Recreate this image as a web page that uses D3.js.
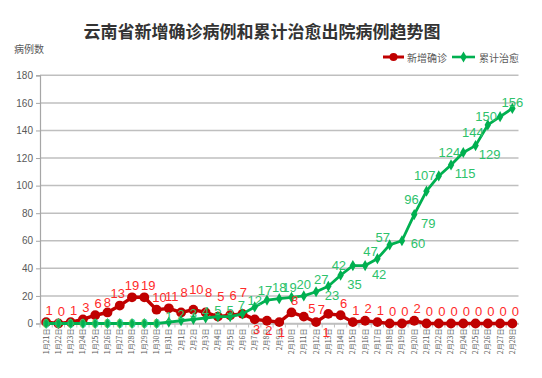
<!DOCTYPE html>
<html><head><meta charset="utf-8">
<script src="https://cdn.jsdelivr.net/npm/d3@7"></script>
<style>body{margin:0;background:#fff;} svg{display:block;}</style>
</head><body>
<svg id="c" width="542" height="378"></svg>
<script>
const categories = ["1月21日","1月22日","1月23日","1月24日","1月25日","1月26日","1月27日","1月28日","1月29日","1月30日","1月31日",
"2月1日","2月2日","2月3日","2月4日","2月5日","2月6日","2月7日","2月8日","2月9日","2月10日","2月11日","2月12日","2月13日","2月14日",
"2月15日","2月16日","2月17日","2月18日","2月19日","2月20日","2月21日","2月22日","2月23日","2月24日","2月25日","2月26日","2月27日","2月28日"];
const newConfirmed = [1,0,1,3,6,8,13,19,19,10,11,
  8,10,8,5,6,7,3,2,1,8,5,1,7,6,1,2,1,0,0,2,0,0,0,0,0,0,0,0];
const cumulativeCured = [0,0,0,0,0,0,0,0,0,0,1,
  2,3,4,5,5,7,12,17,18,19,20,23,27,35,42,42,47,57,60,79,96,107,115,124,129,144,150,156];
const yTicks = [0,20,40,60,80,100,120,140,160,180];
const seriesNames = ["新增确诊","累计治愈"];
const titleText = "云南省新增确诊病例和累计治愈出院病例趋势图";
const yAxisTitle = "病例数";

// label placement (style only)
const redPos = ["t","t","t","t","t","t8","tL","t0","tR","t","t",
  "h","h","h","h","h","h2","b","b","b","t","tr","br","tl","t","t","t","t","t","t","t","t","t","t","t","t","t","t","t"];
const greenPos = ["c","c","c","c","c","c","c","c","c","c","t",
  "t","t","t","t","t","t6","t","tu","tu2","tu","tu2","br2","tl","br","l","br","tl","tl","r","br","bl","l","br","l","br","bl","l","t"];
const redOff = {t:[3,-12], t8:[0,-10], tL:[-2,-12], t0:[0,-12], tR:[4,-12], h:[3,-20], h2:[1,-21], b:[2,10], br:[10,10], tr:[8,-8], tl:[-7,-4]};
const greenOff = {t:[0,-6], t6:[-1,-8], tu:[-2,-10], tu2:[0,-11], tl:[-7,-7], l:[-14,0], r:[16,3], br:[14,9], br2:[16,4], bl:[-15,8], c:[0,0]};

const RED = "#c00000", GREEN = "#00b050", RED_LBL = "#ff2a2a", GREEN_LBL = "#2dc26b";
const svg = d3.select("#c");
const x = d3.scaleBand().domain(categories).range([40, 518.5]);
const y = d3.scaleLinear().domain([0, 180]).range([323.5, 75.3]);
const cx = d => x(d) + x.bandwidth()/2;

// title
svg.append("text").attr("x", 262).attr("y", 30).attr("text-anchor","middle").attr("dominant-baseline","central")
  .attr("font-family","'Noto Sans CJK SC'").attr("font-weight","bold").attr("font-size",17).attr("fill","#333").text(titleText);
svg.append("text").attr("x", 14).attr("y", 48).attr("dominant-baseline","central")
  .attr("font-family","'Noto Sans CJK SC'").attr("font-size",10).attr("fill","#595959").text(yAxisTitle);

// gridlines
svg.append("g").selectAll("line").data(yTicks).join("line")
  .attr("x1",40).attr("x2",518.5).attr("y1",d=>y(d)).attr("y2",d=>y(d))
  .attr("stroke","#bfbfbf").attr("stroke-width",1.5);

// y axis
const yAxis = svg.append("g").attr("transform","translate(40,0)")
  .call(d3.axisLeft(y).tickValues(yTicks).tickSize(4).tickPadding(3));
yAxis.select(".domain").attr("stroke","#a6a6a6").attr("stroke-width",1.2);
yAxis.selectAll(".tick line").attr("stroke","#a6a6a6");
yAxis.selectAll("text").attr("font-family","'Liberation Sans'").attr("font-size",10).attr("fill","#595959");

// x axis
const xAxis = svg.append("g").attr("transform",`translate(0,${y(0)})`)
  .call(d3.axisBottom(x).tickSize(0).tickPadding(0));
xAxis.select(".domain").attr("stroke","#bfbfbf").attr("stroke-width",1.5);
xAxis.selectAll(".tick text")
  .attr("transform","rotate(-90)").attr("text-anchor","end")
  .attr("x",-5).attr("y",0).attr("dy","0.35em")
  .attr("font-family","'Noto Sans CJK SC'").attr("font-size",7).attr("fill","#595959");
svg.append("g").selectAll("line").data(categories).join("line")
  .attr("x1",d=>x(d)).attr("x2",d=>x(d)).attr("y1",y(0)).attr("y2",y(0)+4)
  .attr("stroke","#bfbfbf").attr("stroke-width",1);

// red series
const line = (vals) => d3.line().x((d,i)=>cx(categories[i])).y(d=>y(d))(vals);
svg.append("path").attr("d", line(newConfirmed)).attr("fill","none").attr("stroke",RED).attr("stroke-width",3.4).attr("stroke-linejoin","round");
svg.append("g").selectAll("circle").data(newConfirmed).join("circle")
  .attr("cx",(d,i)=>cx(categories[i])).attr("cy",d=>y(d)).attr("r",4.9).attr("fill",RED);

// green series
svg.append("path").attr("d", line(cumulativeCured)).attr("fill","none").attr("stroke",GREEN).attr("stroke-width",2.8).attr("stroke-linejoin","round");
const diamond = d3.symbol().type(d3.symbolDiamond).size(36);
svg.append("g").selectAll("path").data(cumulativeCured).join("path")
  .attr("d", diamond).attr("transform",(d,i)=>`translate(${cx(categories[i])},${y(d)})`).attr("fill",GREEN);

// labels
svg.append("g").selectAll("text").data(newConfirmed).join("text")
  .attr("x",(d,i)=>cx(categories[i]) + redOff[redPos[i]][0])
  .attr("y",(d,i)=>y(d) + redOff[redPos[i]][1])
  .attr("text-anchor","middle").attr("dominant-baseline","central")
  .attr("font-family","'Liberation Sans'").attr("font-size",13).attr("fill",RED_LBL).text(d=>d);
svg.append("g").selectAll("text").data(cumulativeCured).join("text")
  .attr("x",(d,i)=>cx(categories[i]) + greenOff[greenPos[i]][0])
  .attr("y",(d,i)=>y(d) + greenOff[greenPos[i]][1])
  .attr("text-anchor","middle").attr("dominant-baseline","central")
  .attr("font-family","'Liberation Sans'").attr("font-size",13).attr("fill",GREEN_LBL).text(d=>d);

// legend
const lg = svg.append("g");
lg.append("line").attr("x1",383).attr("x2",404).attr("y1",57).attr("y2",57).attr("stroke",RED).attr("stroke-width",3);
lg.append("circle").attr("cx",393.5).attr("cy",57).attr("r",4).attr("fill",RED);
lg.append("text").attr("x",407).attr("y",57).attr("dominant-baseline","central")
  .attr("font-family","'Noto Sans CJK SC'").attr("font-size",10).attr("fill","#595959").text(seriesNames[0]);
lg.append("line").attr("x1",452).attr("x2",475).attr("y1",57).attr("y2",57).attr("stroke",GREEN).attr("stroke-width",2.6);
lg.append("path").attr("d",diamond).attr("transform","translate(463.5,57)").attr("fill",GREEN);
lg.append("text").attr("x",479).attr("y",57).attr("dominant-baseline","central")
  .attr("font-family","'Noto Sans CJK SC'").attr("font-size",10).attr("fill","#595959").text(seriesNames[1]);
</script>
</body></html>
